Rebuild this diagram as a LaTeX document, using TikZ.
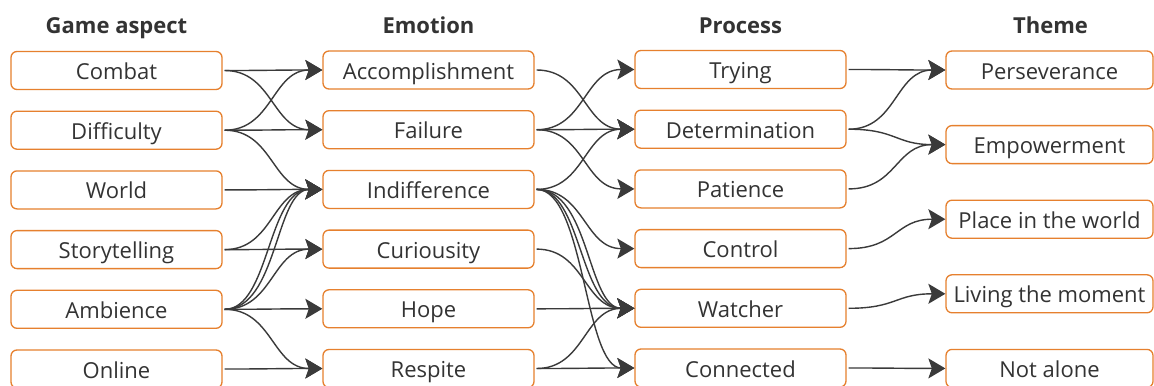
\documentclass[tikz,border=0pt]{standalone}
\usepackage{fontspec}
\setmainfont{Open Sans}
\usetikzlibrary{arrows.meta}
\definecolor{boxorange}{RGB}{230,128,46}
\definecolor{textgray}{RGB}{51,51,51}
\definecolor{linkgray}{RGB}{58,58,58}
\newcommand\boxfont{\fontsize{22bp}{24bp}\selectfont}
\newcommand\hdrfont{\fontsize{22bp}{24bp}\selectfont\bfseries}
% flow from the east side of one box to the west side of another
\newcommand\flowlink[3][50]{\draw[link] (#2.east) .. controls +(#1,0) and +(-#1,0) .. (#3.west);}
\newcommand\flowlinkx[4]{\draw[link] (#3.east) .. controls +(#1,0) and +(-#2,0) .. (#4.west);}
\begin{document}
\begin{tikzpicture}[x=1bp,y=-1bp,
  box/.style={draw=boxorange, line width=1.3bp, rounded corners=6bp, fill=white,
    minimum width=211bp, minimum height=38bp, inner sep=0pt, text=textgray, font=\boxfont,
    text height=18bp, text depth=0bp},
  themebox/.style={box, minimum width=207bp},
  hdr/.style={font=\hdrfont, text=textgray, inner sep=0pt, text height=15.5bp, text depth=0bp},
  link/.style={draw=linkgray, line width=1.4bp, shorten <=2bp,
    -{Stealth[length=17bp,width=20bp,inset=3.5bp]}}]
\clip (0,0) rectangle (1154,385);
\fill[white] (0,0) rectangle (1154,385);

% column headers
\node[hdr] (h1) at (116.5,25.5) {Game aspect};
\node[hdr] (h2) at (428.5,25.5) {Emotion};
\node[hdr] (h3) at (740.5,25.5) {Process};
\node[hdr] (h4) at (1050.5,25.5) {Theme};

% game aspects
\node[box] (combat)     at (116.5,70.5)  {Combat};
\node[box] (difficulty) at (116.5,130.2) {Difficulty};
\node[box] (world)      at (116.5,189.9) {World};
\node[box] (story)      at (116.5,249.6) {Storytelling};
\node[box] (ambience)   at (116.5,309.3) {Ambience};
\node[box] (online)     at (116.5,369)   {Online};

% emotions
\node[box] (accomp)   at (428.5,70)    {Accomplishment};
\node[box] (failure)  at (428.5,129.7) {Failure};
\node[box] (indiff)   at (428.5,189.4) {Indifference};
\node[box] (curious)  at (428.5,249.1) {Curiousity};
\node[box] (hope)     at (428.5,308.8) {Hope};
\node[box] (respite)  at (428.5,368.5) {Respite};

% processes
\node[box] (trying)    at (740.5,69.5)  {Trying};
\node[box] (determ)    at (740.5,129.2) {Determination};
\node[box] (patience)  at (740.5,188.9) {Patience};
\node[box] (control)   at (740.5,248.6) {Control};
\node[box] (watcher)   at (740.5,308.3) {Watcher};
\node[box] (connected) at (740.5,368)   {Connected};

% themes
\node[themebox] (persev)   at (1049.5,70)    {Perseverance};
\node[themebox] (empower)  at (1049.5,144.6) {Empowerment};
\node[themebox] (place)    at (1049.5,219.2) {Place in the world};
\node[themebox] (living)   at (1049.5,293.8) {Living the moment};
\node[themebox] (notalone) at (1049.5,368.4) {Not alone};

% game aspect -> emotion
\flowlink{combat}{accomp}
\flowlink{combat}{failure}
\flowlink{difficulty}{accomp}
\flowlink{difficulty}{failure}
\flowlink{difficulty}{indiff}
\flowlink{world}{indiff}
\flowlink{story}{indiff}
\flowlink{story}{curious}
\flowlinkx{47}{55}{ambience}{indiff}
\flowlinkx{55}{47}{ambience}{indiff}
\flowlink{ambience}{curious}
\flowlink{ambience}{hope}
\flowlink{ambience}{respite}
\flowlink{online}{respite}

% emotion -> process
\flowlink{accomp}{determ}
\flowlink{failure}{trying}
\flowlink{failure}{determ}
\flowlink{failure}{patience}
\flowlink{indiff}{determ}
\flowlink{indiff}{control}
\flowlinkx{47}{55}{indiff}{watcher}
\flowlinkx{55}{47}{indiff}{watcher}
\flowlink{indiff}{connected}
\flowlink{curious}{watcher}
\flowlink{hope}{watcher}
\flowlink{respite}{watcher}
\flowlink{respite}{connected}

% process -> theme
\flowlink{trying}{persev}
\flowlink{determ}{persev}
\flowlink{determ}{empower}
\flowlink{patience}{empower}
\flowlink{control}{place}
\flowlink{watcher}{living}
\flowlink{connected}{notalone}
\end{tikzpicture}
\end{document}
